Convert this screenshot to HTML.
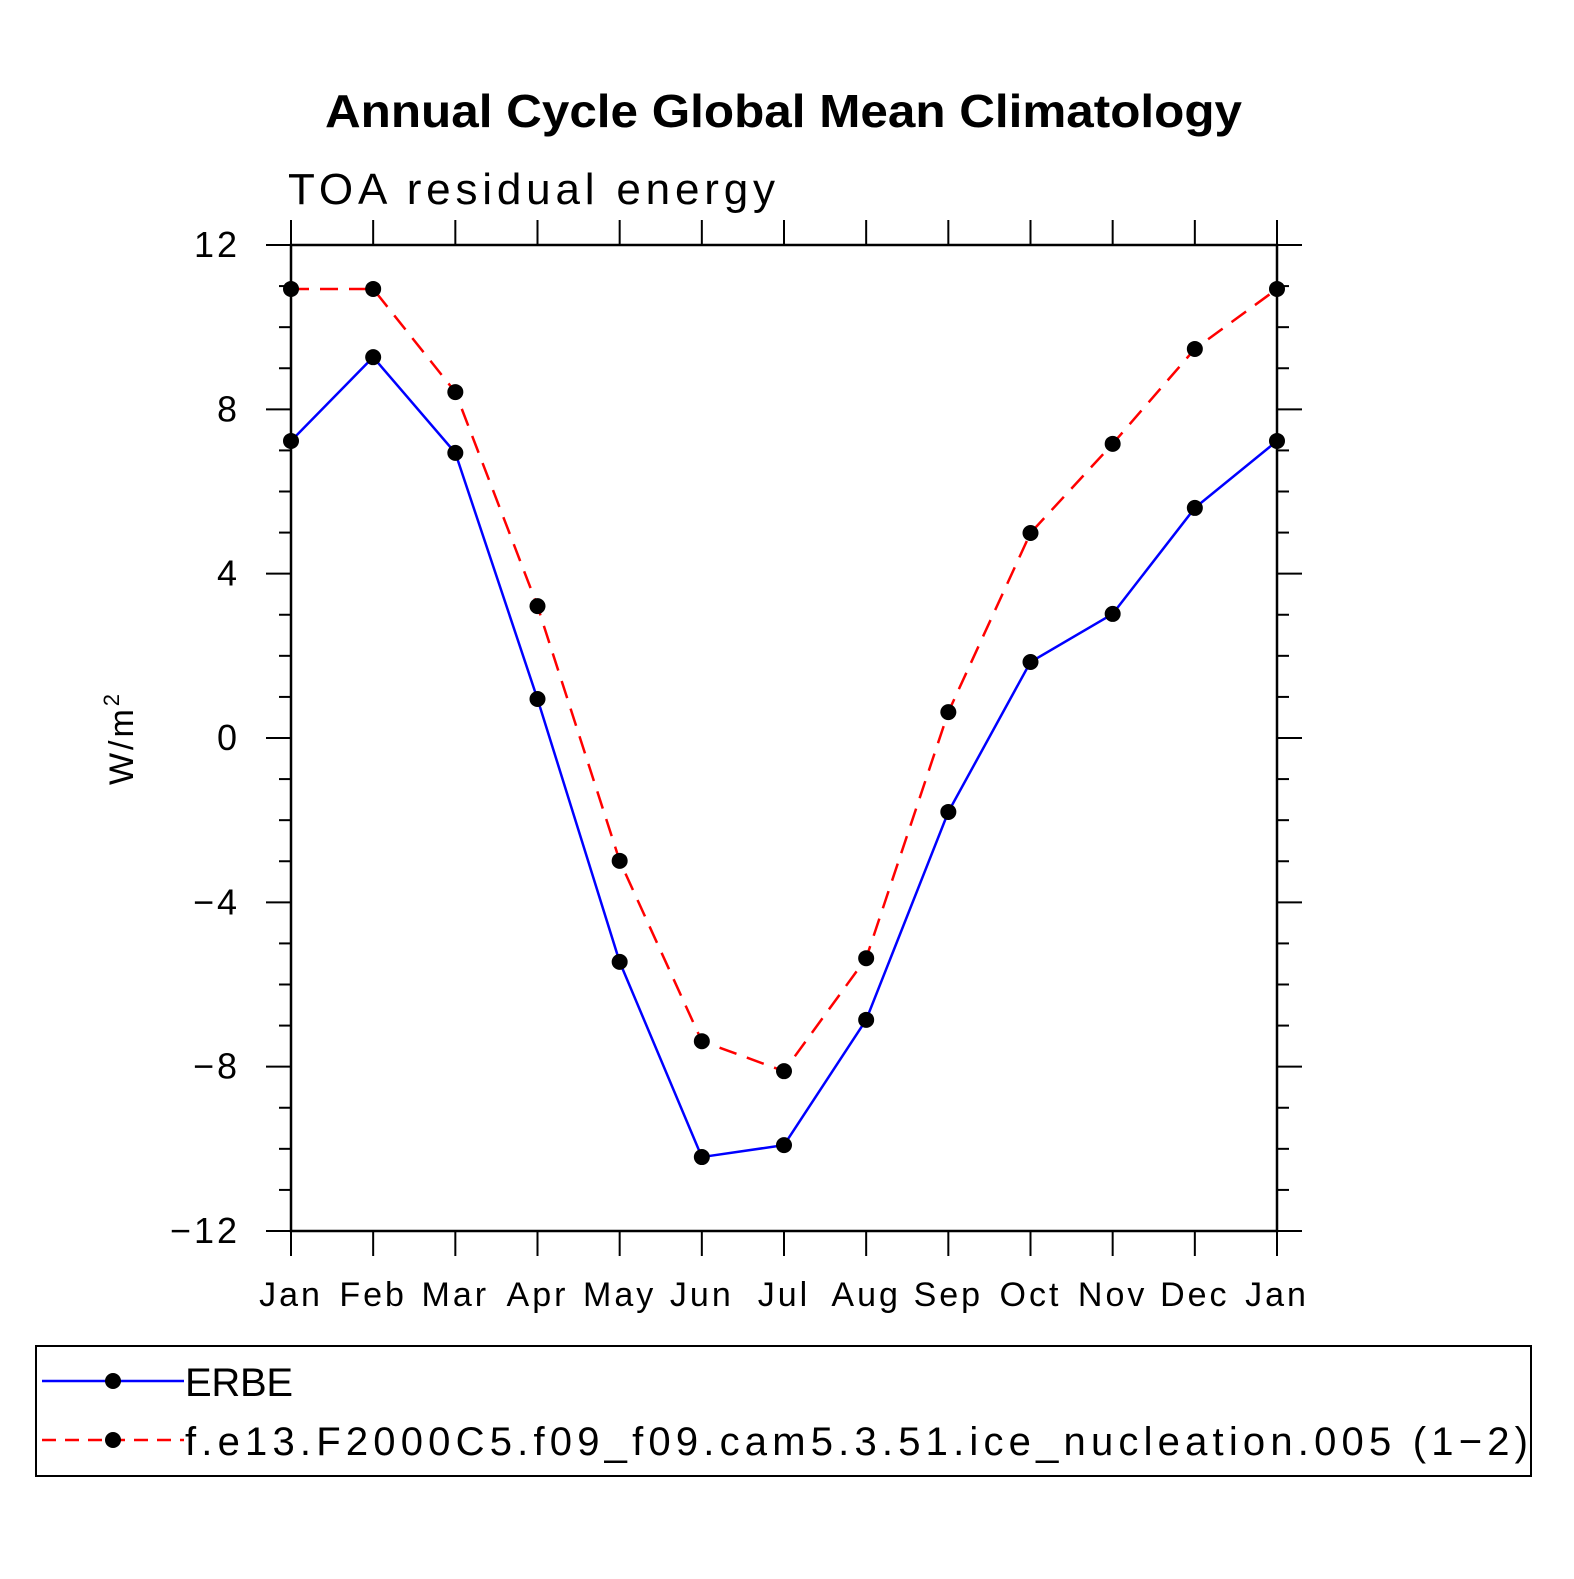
<!DOCTYPE html>
<html><head><meta charset="utf-8"><style>
body{margin:0;background:#fff}
svg text{font-family:"Liberation Sans",sans-serif}
</style></head><body>
<svg id="chart" width="1574" height="1574" viewBox="0 0 1574 1574" xmlns="http://www.w3.org/2000/svg">
<rect width="1574" height="1574" fill="#fff"/>
<text x="325" y="127" font-size="46" font-weight="bold" textLength="917" lengthAdjust="spacingAndGlyphs">Annual Cycle Global Mean Climatology</text>
<text x="288" y="204" font-size="44" textLength="487" lengthAdjust="spacing">TOA residual energy</text>
<text transform="translate(133,738) rotate(-90)" font-size="34" text-anchor="middle" letter-spacing="3">W/m<tspan font-size="22" dy="-14">2</tspan></text>
<g id="axes"></g>
<g id="series"></g>
<rect x="36" y="1346" width="1495" height="130" fill="none" stroke="#000" stroke-width="2"/>
<g>
<line x1="42" y1="1381" x2="184" y2="1381" stroke="#0000ff" stroke-width="2.5"/>
<circle cx="113" cy="1381" r="8"/>
<text x="185" y="1396" font-size="40" textLength="108" lengthAdjust="spacing">ERBE</text></g>
<g>
<line x1="42" y1="1440" x2="184" y2="1440" stroke="#ff0000" stroke-width="2.5" stroke-dasharray="14,9"/>
<circle cx="113" cy="1440" r="8"/>
<text x="185" y="1455" font-size="40" textLength="1343" lengthAdjust="spacing">f.e13.F2000C5.f09_f09.cam5.3.51.ice_nucleation.005 (1−2)</text></g>
</svg>
<script>
const months=["Jan","Feb","Mar","Apr","May","Jun","Jul","Aug","Sep","Oct","Nov","Dec","Jan"];
const erbe=[7.23,9.27,6.94,0.95,-5.45,-10.2,-9.91,-6.86,-1.80,1.85,3.02,5.6,7.23];
const model=[10.93,10.93,8.42,3.21,-2.99,-7.38,-8.11,-5.36,0.63,4.99,7.16,9.47,10.93];
const yTicks=[-12,-8,-4,0,4,8,12];
const yTickLabels=["−12","−8","−4","0","4","8","12"];
const NS="http://www.w3.org/2000/svg";
const X0=291,X1=1277,Y0=1231,Y1=245,YMIN=-12,YMAX=12;
const xs=i=>X0+(X1-X0)*i/(months.length-1);
const ys=v=>Y0-(v-YMIN)/(YMAX-YMIN)*(Y0-Y1);
function mk(tag,attrs,parent){const e=document.createElementNS(NS,tag);for(const k in attrs)e.setAttribute(k,attrs[k]);parent.appendChild(e);return e;}
const ax=document.getElementById('axes');
const frame=mk('rect',{x:X0,y:Y1,width:X1-X0,height:Y0-Y1,fill:'none',stroke:'#000','stroke-width':2.5},ax);


months.forEach((m,i)=>{const x=xs(i);
mk('line',{x1:x,y1:Y0,x2:x,y2:Y0+25,stroke:'#000','stroke-width':2},ax);
mk('line',{x1:x,y1:Y1,x2:x,y2:Y1-25,stroke:'#000','stroke-width':2},ax);
const t=mk('text',{x:x,y:1306,'font-size':34,'text-anchor':'middle','letter-spacing':3},ax);t.textContent=m;

});
for(let v=YMIN;v<=YMAX;v+=1){const y=ys(v);const major=yTicks.includes(v);const L=major?25:12;
mk('line',{x1:X0,y1:y,x2:X0-L,y2:y,stroke:'#000','stroke-width':2},ax);
mk('line',{x1:X1,y1:y,x2:X1+L,y2:y,stroke:'#000','stroke-width':2},ax);}
yTicks.forEach((v,i)=>{const t=mk('text',{x:240,y:ys(v)+12,'font-size':36,'text-anchor':'end','letter-spacing':3},ax);t.textContent=yTickLabels[i];

});
const sg=document.getElementById('series');
function draw(data,color,dash,name){
const pts=data.map((v,i)=>xs(i)+','+ys(v)).join(' ');
const pl=mk('polyline',{points:pts,fill:'none',stroke:color,'stroke-width':2.5},sg);
if(dash)pl.setAttribute('stroke-dasharray',dash);


data.forEach((v,i)=>{const c=mk('circle',{cx:xs(i),cy:ys(v),r:8,fill:'#000'},sg);

});}
draw(erbe,'#0000ff',null,'erbe');
draw(model,'#ff0000','18,11','model');
</script>
</body></html>
